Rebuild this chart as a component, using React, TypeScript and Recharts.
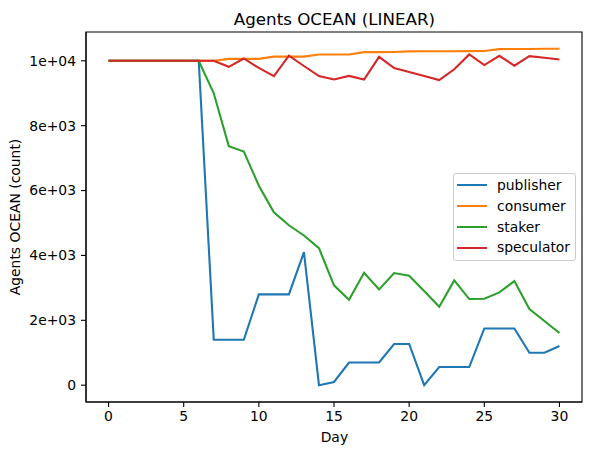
import React from "react";
import { LineChart, Line, XAxis, YAxis, Legend, ReferenceArea, Customized } from "recharts";

const days = [0, 1, 2, 3, 4, 5, 6, 7, 8, 9, 10, 11, 12, 13, 14, 15, 16, 17, 18, 19, 20, 21, 22, 23, 24, 25, 26, 27, 28, 29, 30];

const publisher = [
  10000, 10000, 10000, 10000, 10000, 10000, 10000, 1400, 1400, 1400, 2800, 2800, 2800, 4100, 0, 100,
  700, 700, 700, 1270, 1270, 0, 560, 560, 560, 1750, 1750, 1750, 1000, 1000, 1210,
];
const consumer = [
  10000, 10000, 10000, 10000, 10000, 10000, 10000, 10000, 10060, 10060, 10060, 10130, 10130, 10130, 10195, 10195,
  10195, 10267, 10267, 10270, 10290, 10295, 10295, 10295, 10297, 10300, 10360, 10365, 10365, 10370, 10370,
];
const staker = [
  10000, 10000, 10000, 10000, 10000, 10000, 10000, 9000, 7370, 7200, 6150, 5330, 4930, 4615, 4225, 3077,
  2636, 3467, 2954, 3456, 3374, 2903, 2420, 3231, 2656, 2666, 2861, 3210, 2349, 1980, 1610,
];
const speculator = [
  10000, 10000, 10000, 10000, 10000, 10000, 10000, 10000, 9815, 10072, 9780, 9528, 10160, 9840, 9528, 9425,
  9535, 9425, 10123, 9778, 9655, 9530, 9405, 9738, 10195, 9870, 10154, 9850, 10144, 10092, 10041,
];

const xTicks = [0, 5, 10, 15, 20, 25, 30];
const yTicks = [0, 2000, 4000, 6000, 8000, 10000];

const series = [
  { key: "publisher", color: "#1f77b4", values: publisher },
  { key: "consumer", color: "#ff7f0e", values: consumer },
  { key: "staker", color: "#2ca02c", values: staker },
  { key: "speculator", color: "#d62728", values: speculator },
];

const data = days.map((d, i) => {
  const row: Record<string, number> = { day: d };
  series.forEach((s) => (row[s.key] = s.values[i]));
  return row;
});

const FONT = "DejaVu Sans";
const FS = 13.9;

const X_DOMAIN = [-1.5, 31.5];
const Y_DOMAIN = [-518, 10888];

function sci(v: number) {
  if (v === 0) return "0";
  const exp = Math.floor(Math.log10(Math.abs(v)));
  const m = v / Math.pow(10, exp);
  return `${m}e+${String(exp).padStart(2, "0")}`;
}

// matplotlib-like legend box, keeps the plotting order
function LegendBox() {
  return (
    <div
      style={{
        boxSizing: "border-box",
        width: 123,
        height: 88,
        border: "1px solid #cccccc",
        borderRadius: 3,
        background: "rgba(255,255,255,0.8)",
        paddingTop: 1,
        fontFamily: FONT,
        fontSize: FS,
        color: "#000",
      }}
    >
      {series.map((s) => (
        <div key={s.key} style={{ height: 20.8, display: "flex", alignItems: "center", position: "relative" }}>
          <div style={{ position: "absolute", left: 3, width: 30, height: 2, background: s.color }} />
          <span style={{ position: "absolute", left: 43, lineHeight: "20.8px" }}>{s.key}</span>
        </div>
      ))}
    </div>
  );
}

const tickStyle = { fontFamily: FONT, fontSize: FS, fill: "#000" };

export default function App() {
  return (
    <div style={{ position: "absolute", left: 0, top: 0, width: 591, height: 455, background: "#fff" }}>
      <LineChart width={591} height={455} data={data} margin={{ top: 32, right: 9, bottom: 0, left: 0 }}>
        <XAxis
          dataKey="day"
          type="number"
          domain={X_DOMAIN}
          ticks={xTicks}
          allowDataOverflow
          height={53}
          stroke="#000"
          tickSize={5}
          tickMargin={4}
          tick={tickStyle}
          tickLine={{ stroke: "#000", strokeWidth: 1.1 }}
          axisLine={{ stroke: "#000", strokeWidth: 1.1 }}
          label={{
            content: () => (
              <text x={334.4} y={442} textAnchor="middle" fontFamily={FONT} fontSize={FS} fill="#000">
                Day
              </text>
            ),
          }}
        />
        <YAxis
          type="number"
          domain={Y_DOMAIN}
          ticks={yTicks}
          allowDataOverflow
          width={86}
          stroke="#000"
          tickSize={5}
          tickMargin={5}
          tick={tickStyle}
          tickFormatter={sci}
          tickLine={{ stroke: "#000", strokeWidth: 1.1 }}
          axisLine={{ stroke: "#000", strokeWidth: 1.1 }}
          label={{
            content: () => (
              <text
                x={20}
                y={217}
                transform="rotate(-90 20 217)"
                textAnchor="middle"
                fontFamily={FONT}
                fontSize={FS}
                fill="#000"
              >
                Agents OCEAN (count)
              </text>
            ),
          }}
        />
        <ReferenceArea
          x1={X_DOMAIN[0]}
          x2={X_DOMAIN[1]}
          y1={Y_DOMAIN[0]}
          y2={Y_DOMAIN[1]}
          fill="none"
          stroke="#000"
          strokeWidth={1.1}
        />
        {series.map((s) => (
          <Line
            key={s.key}
            dataKey={s.key}
            name={s.key}
            type="linear"
            stroke={s.color}
            strokeWidth={2.1}
            dot={false}
            activeDot={false}
            isAnimationActive={false}
          />
        ))}
        <Legend
          layout="vertical"
          align="center"
          verticalAlign="middle"
          content={<LegendBox />}
          wrapperStyle={{ left: 453, top: 173, width: 123, height: 88 }}
        />
        <Customized
          component={() => (
            <text x={334.4} y={24.5} textAnchor="middle" fontFamily={FONT} fontSize={16.7} fill="#000">
              Agents OCEAN (LINEAR)
            </text>
          )}
        />
      </LineChart>
    </div>
  );
}
